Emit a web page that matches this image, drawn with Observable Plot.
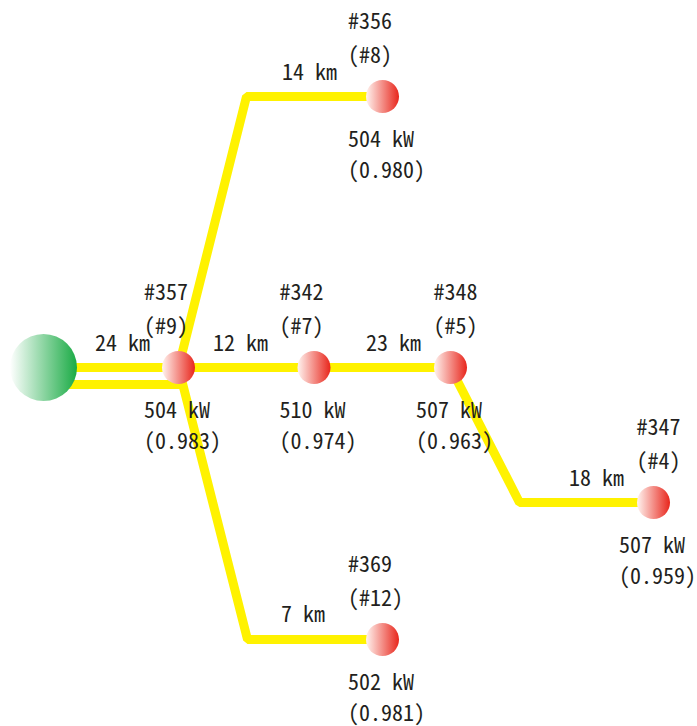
<!DOCTYPE html>
<html>
<head>
<meta charset="utf-8">
<script src="https://cdn.jsdelivr.net/npm/d3@7"></script>
<script src="https://cdn.jsdelivr.net/npm/@observablehq/plot@0.6"></script>
<style>
  body { margin: 0; background: #fff; }
  #chart text { font-family: "Noto Sans Mono CJK JP", "DejaVu Sans Mono", monospace; }
</style>
</head>
<body>
<div id="chart"></div>
<script>
// Source (substation) position in layout coordinates
const source = {x: 43, y: 367};

// Nodes
const nodeIds   = ["#357", "#342", "#348", "#347", "#356", "#369"];
const nodeRanks = ["(#9)", "(#7)", "(#5)", "(#4)", "(#8)", "(#12)"];
const nodeKW    = [504, 510, 507, 507, 504, 502];
const nodePF    = ["0.983", "0.974", "0.963", "0.959", "0.980", "0.981"];
const nodeX     = [178, 313.5, 450, 653, 382, 382];
const nodeY     = [367, 367, 367, 502, 96, 639];
const tagShift  = [0, 0, 1, 1, 0, 0]; // top tag placed right of incoming label

// Edges (polylines through layout coordinates)
const edgeKm    = [24, null, 12, 23, 18, 14, 7];
const edgePaths = [
  [[43, 367], [178, 367]],
  [[43, 384], [182, 384]],
  [[178, 367], [313.5, 367]],
  [[313.5, 367], [450, 367]],
  [[450, 367], [519, 502], [653, 502]],
  [[178, 367], [246, 96], [382, 96]],
  [[178, 367], [247, 639], [382, 639]]
];
const edgeLabelX = [122, null, 240, 393, 596, 309, 302.5];
const edgeLabelY = [343, null, 343, 343, 478, 72, 614];

const nodes = nodeIds.map((id, i) => ({
  id, rank: nodeRanks[i], kw: `${nodeKW[i]} kW`, pf: `(${nodePF[i]})`,
  x: nodeX[i], y: nodeY[i], shift: tagShift[i]
}));
const segs = edgePaths.flatMap((p, k) => p.map(([x, y]) => ({k, x, y})));
const kmLabels = edgeKm.map((km, k) => ({km, x: edgeLabelX[k], y: edgeLabelY[k]}))
  .filter(d => d.km != null).map(d => ({...d, text: `${d.km} km`}));

const fs = 22;
const txt = {fontSize: fs, fill: "#231f20", textAnchor: "start", lineAnchor: "middle"};

const plot = Plot.plot({
  width: 697, height: 726,
  margin: 0,
  x: {domain: [0, 697], range: [0, 697], axis: null},
  y: {domain: [0, 726], range: [0, 726], axis: null},
  marks: [
    Plot.line(segs, {x: "x", y: "y", z: "k", stroke: "#fff200", strokeWidth: 9,
      strokeLinejoin: "miter", strokeLinecap: "butt"}),
    Plot.dot([source], {x: "x", y: "y", r: 33.5, fill: "url(#greengrad)", stroke: "none"}),
    Plot.dot(nodes, {x: "x", y: "y", r: 16.5, fill: "url(#redgrad)", stroke: "none"}),
    Plot.text(nodes, {...txt, x: d => d.x + (d.shift ? -17 : -34.5), y: d => d.y - 75, text: "id"}),
    Plot.text(nodes, {...txt, x: d => d.x + (d.shift ? -17 : -34.5), y: d => d.y - 41, text: "rank"}),
    Plot.text(nodes, {...txt, x: d => d.x - 34.5, y: d => d.y + 43, text: "kw"}),
    Plot.text(nodes, {...txt, x: d => d.x - 34.5, y: d => d.y + 74, text: "pf"}),
    Plot.text(kmLabels, {...txt, textAnchor: "middle", x: "x", y: "y", text: "text"})
  ]
});

const defs = d3.select(plot).insert("defs", ":first-child");
const rg = defs.append("linearGradient").attr("id", "redgrad").attr("x1", 0).attr("x2", 1).attr("y1", 0).attr("y2", 0);
rg.append("stop").attr("offset", 0).attr("stop-color", "#fff4f0");
rg.append("stop").attr("offset", 1).attr("stop-color", "#e8261c");
const gg = defs.append("linearGradient").attr("id", "greengrad").attr("x1", 0).attr("x2", 1).attr("y1", 0).attr("y2", 0);
gg.append("stop").attr("offset", 0).attr("stop-color", "#ffffff");
gg.append("stop").attr("offset", 1).attr("stop-color", "#1aab45");

document.getElementById("chart").appendChild(plot);
</script>
</body>
</html>
